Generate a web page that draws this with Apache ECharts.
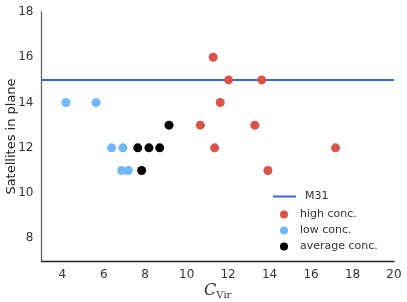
<!DOCTYPE html>
<html><head><meta charset="utf-8">
<script src="https://cdn.jsdelivr.net/npm/echarts@6/dist/echarts.min.js"></script>
<style>html,body{margin:0;padding:0;background:#fff}#c{width:407px;height:302px}</style>
</head><body><div id="c"></div>
<script>
var m31Value = 15;
var highConc = [[11.28,16],[12.02,15],[13.62,15],[11.62,14],[10.66,13],[13.29,13],[11.35,12],[17.18,12],[13.92,11]];
var lowConc = [[4.18,14],[5.63,14],[6.38,12],[6.93,12],[6.87,11],[7.19,11]];
var avgConc = [[9.15,13],[7.64,12],[8.18,12],[8.70,12],[7.83,11]];
var xTicks = [4,6,8,10,12,14,16,18,20];
var yTicks = [8,10,12,14,16,18];
var xRange = [3,20], yRange = [7,18];

var chart = echarts.init(document.getElementById('c'), null, {renderer:'canvas'});
var font = 'DejaVu Sans';
chart.setOption({
  animation:false,
  grid:{left:41.5, right:13, top:12, bottom:41, containLabel:false, outerBoundsMode:'none'},
  xAxis:{type:'value', min:xRange[0], max:xRange[1], interval:1,
    axisLine:{onZero:false, lineStyle:{color:'#222', width:1.3}},
    axisTick:{show:false}, splitLine:{show:false},
    axisLabel:{fontFamily:font, fontSize:12, color:'#333', margin:8,
      formatter:function(v){return xTicks.indexOf(v)>=0?String(v):'';}},
    name:'{c|C}{s|Vir}', nameLocation:'middle', nameGap:21, nameMoveOverlap:false,
    nameTextStyle:{rich:{c:{fontFamily:'DejaVu Serif', fontStyle:'italic', fontSize:16, color:'#333'},
      s:{fontFamily:'DejaVu Serif', fontSize:10, color:'#333', verticalAlign:'bottom', padding:[8,0,0,0]}}}
  },
  yAxis:{type:'value', min:yRange[0], max:yRange[1], interval:1,
    axisLine:{onZero:false, lineStyle:{color:'#666', width:1.3}},
    axisTick:{show:false}, splitLine:{show:false},
    axisLabel:{fontFamily:font, fontSize:12, color:'#333', margin:8,
      formatter:function(v){return yTicks.indexOf(v)>=0?String(v):'';}},
    name:'Satellites in plane', nameLocation:'middle', nameGap:23, nameMoveOverlap:false,
    nameTextStyle:{fontFamily:font, fontSize:13, color:'#222'}
  },
  legend:[{
    data:[{name:'M31', icon:'rect'}], orient:'vertical', left:268, top:186,
    itemWidth:23, itemHeight:2, textStyle:{fontFamily:font, fontSize:11, color:'#333', padding:[0,0,0,4]}, itemGap:8
  },{
    data:['high conc.','low conc.','average conc.'], orient:'vertical', left:275, top:204,
    icon:'circle', itemWidth:8, itemHeight:9, itemGap:5,
    textStyle:{fontFamily:font, fontSize:11, color:'#333', padding:[0,0,0,7]}
  }],
  series:[
    {name:'M31', type:'line', z:1, data:[[xRange[0],m31Value],[xRange[1],m31Value]], symbol:'none',
      lineStyle:{color:'#3a66e0', width:2}, itemStyle:{color:'#3a66e0'}},
    {name:'high conc.', type:'scatter', z:3, data:highConc, symbolSize:9, itemStyle:{color:'#d9534a', opacity:1}},
    {name:'low conc.', type:'scatter', z:3, data:lowConc, symbolSize:9, itemStyle:{color:'#70b8fb', opacity:1}},
    {name:'average conc.', type:'scatter', z:3, data:avgConc, symbolSize:9, itemStyle:{color:'#000000', opacity:1}}
  ]
});
</script></body></html>
